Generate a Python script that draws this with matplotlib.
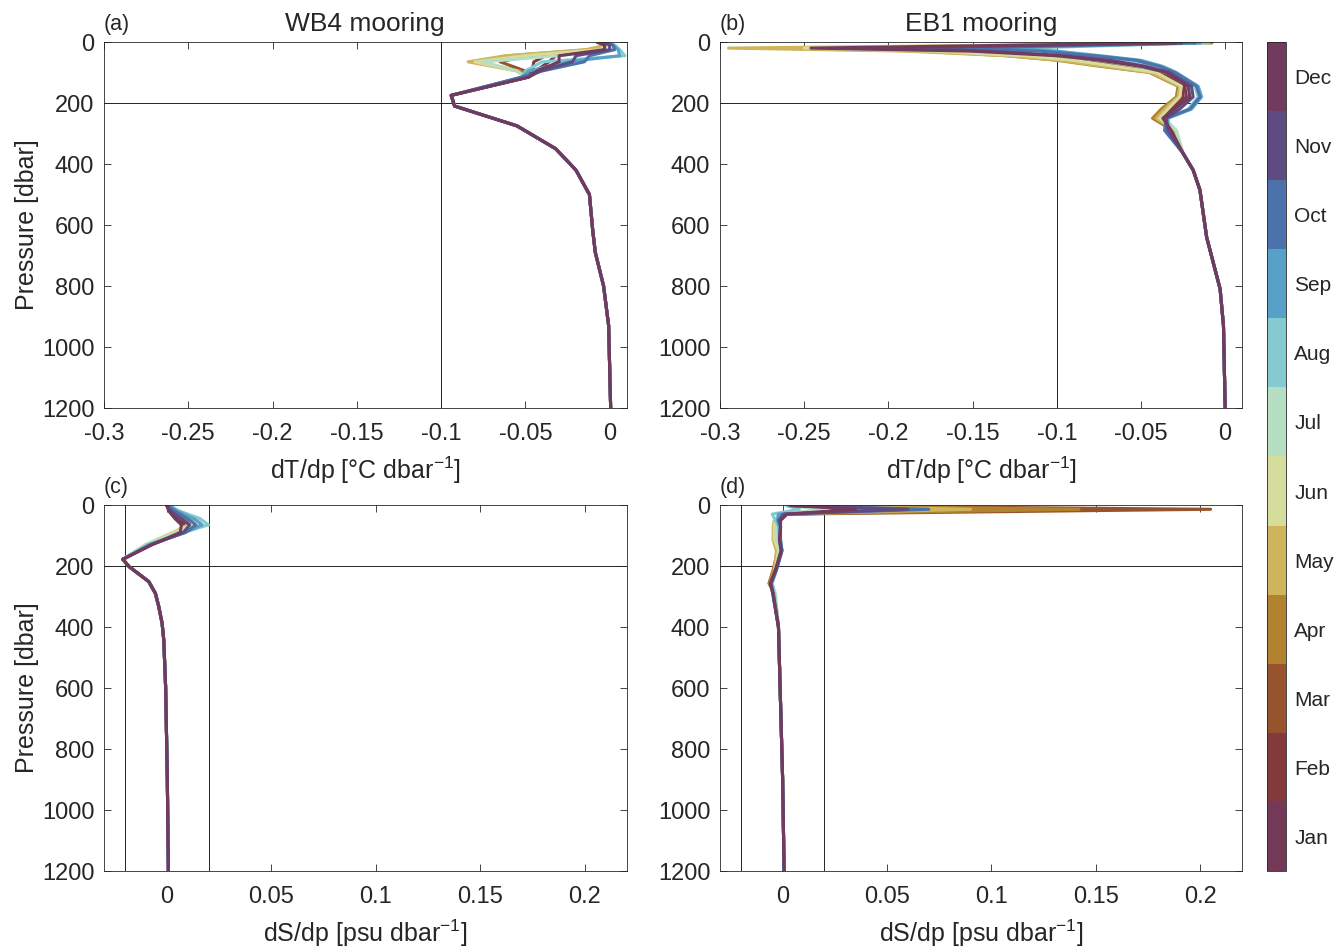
import numpy as np
import matplotlib
matplotlib.use("Agg")
import matplotlib.pyplot as plt
from matplotlib.colors import ListedColormap, BoundaryNorm
from matplotlib.colorbar import ColorbarBase

plt.rcParams['font.family'] = ['Liberation Sans', 'DejaVu Sans']
plt.rcParams['mathtext.fontset'] = 'custom'
plt.rcParams['mathtext.rm'] = 'Liberation Sans'
plt.rcParams['mathtext.it'] = 'Liberation Sans'
plt.rcParams['axes.unicode_minus'] = False

months = ["Jan", "Feb", "Mar", "Apr", "May", "Jun",
          "Jul", "Aug", "Sep", "Oct", "Nov", "Dec"]
month_colors = ["#733957", "#843A3D", "#97532B", "#B2832F", "#CEB45B", "#D5DD9C",
                "#B5DEC3", "#84CACF", "#57A0C8", "#4C72AB", "#5E4B82", "#723A5D"]

# (a) WB4 dT/dp, upper levels differ by month, deep part shared
wb4_T_p_upper = [2, 10, 25, 45, 65, 95, 115]
wb4_T_upper = [
    [-0.006, -0.003, -0.004, -0.032, -0.036, -0.044, -0.048],
    [-0.006, -0.003, -0.006, -0.038, -0.045, -0.046, -0.049],
    [-0.005, -0.002, -0.010, -0.048, -0.065, -0.050, -0.050],
    [-0.004, -0.001, -0.012, -0.060, -0.080, -0.053, -0.050],
    [-0.005, -0.002, -0.014, -0.062, -0.084, -0.055, -0.050],
    [-0.004, 0.000, -0.006, -0.050, -0.080, -0.055, -0.050],
    [-0.003, 0.002, 0.003, -0.030, -0.075, -0.055, -0.050],
    [-0.002, 0.003, 0.006, 0.009, -0.040, -0.050, -0.052],
    [-0.002, 0.002, 0.005, 0.006, -0.025, -0.048, -0.052],
    [-0.003, 0.002, 0.003, -0.012, -0.015, -0.040, -0.052],
    [-0.004, 0.000, 0.000, -0.020, -0.022, -0.041, -0.048],
    [-0.007, -0.003, -0.003, -0.030, -0.030, -0.043, -0.048],
]
wb4_T_p_deep = [175, 210, 275, 350, 420, 500, 620, 690, 800, 930, 1200]
wb4_T_deep = [-0.094, -0.092, -0.055, -0.032, -0.020, -0.012, -0.010, -0.0085, -0.0036, -0.0006, 0.0006]

# (b) EB1 dT/dp
eb1_T_p_upper = [3, 20, 30, 45, 60, 80, 100, 145, 180, 220, 250, 290]
eb1_T_upper = [
    [-0.030, -0.220, -0.160, -0.105, -0.078, -0.055, -0.037, -0.024, -0.023, -0.031, -0.038, -0.032],
    [-0.028, -0.200, -0.160, -0.110, -0.082, -0.058, -0.039, -0.025, -0.025, -0.033, -0.039, -0.031],
    [-0.020, -0.180, -0.160, -0.120, -0.092, -0.068, -0.043, -0.027, -0.028, -0.037, -0.043, -0.031],
    [-0.008, -0.240, -0.180, -0.130, -0.100, -0.074, -0.045, -0.028, -0.029, -0.038, -0.043, -0.030],
    [-0.010, -0.295, -0.190, -0.130, -0.098, -0.072, -0.044, -0.027, -0.028, -0.036, -0.041, -0.030],
    [-0.012, -0.250, -0.175, -0.120, -0.090, -0.065, -0.041, -0.026, -0.027, -0.034, -0.039, -0.029],
    [-0.012, -0.160, -0.130, -0.100, -0.075, -0.052, -0.035, -0.021, -0.021, -0.029, -0.036, -0.029],
    [-0.011, -0.120, -0.100, -0.080, -0.058, -0.040, -0.030, -0.018, -0.016, -0.022, -0.034, -0.033],
    [-0.015, -0.140, -0.100, -0.074, -0.050, -0.037, -0.029, -0.016, -0.014, -0.020, -0.034, -0.035],
    [-0.018, -0.160, -0.110, -0.078, -0.053, -0.039, -0.030, -0.017, -0.015, -0.021, -0.035, -0.036],
    [-0.026, -0.200, -0.140, -0.095, -0.068, -0.047, -0.033, -0.020, -0.019, -0.027, -0.035, -0.034],
    [-0.030, -0.246, -0.150, -0.100, -0.074, -0.050, -0.035, -0.022, -0.021, -0.030, -0.037, -0.032],
]
eb1_T_p_deep = [365, 420, 485, 640, 810, 930, 1200]
eb1_T_deep = [-0.025, -0.019, -0.015, -0.011, -0.003, -0.001, 0.0]

# (c) WB4 dS/dp
wb4_S_p_upper = [1, 20, 45, 65, 90, 130]
wb4_S_upper = [
    [0.000, 0.0015, 0.005, 0.008, 0.006, -0.008],
    [0.0005, 0.002, 0.006, 0.009, 0.006, -0.008],
    [0.001, 0.003, 0.008, 0.010, 0.005, -0.008],
    [0.001, 0.004, 0.010, 0.011, 0.004, -0.009],
    [0.001, 0.005, 0.013, 0.010, 0.003, -0.010],
    [0.001, 0.006, 0.015, 0.012, 0.003, -0.010],
    [0.001, 0.006, 0.016, 0.016, 0.005, -0.010],
    [0.001, 0.006, 0.016, 0.020, 0.008, -0.009],
    [0.001, 0.005, 0.013, 0.017, 0.009, -0.008],
    [0.000, 0.004, 0.010, 0.014, 0.009, -0.008],
    [0.000, 0.002, 0.007, 0.011, 0.008, -0.007],
    [0.000, 0.001, 0.004, 0.007, 0.0065, -0.007],
]
wb4_S_p_deep = [178, 202, 251, 290, 333, 388, 443, 600, 900, 1200]
wb4_S_deep = [-0.021, -0.018, -0.0086, -0.0054, -0.0038, -0.0022, -0.0014, -0.0005, 0.0003, 0.0008]

# (d) EB1 dS/dp
eb1_S_p_upper = [2, 14, 30, 50, 70, 115, 150, 213, 257, 290]
eb1_S_upper = [
    [0.004, 0.080, 0.002, -0.001, -0.0015, -0.002, -0.001, -0.0035, -0.0058, -0.0045],
    [0.004, 0.120, 0.002, -0.0015, -0.002, -0.0025, -0.0015, -0.004, -0.006, -0.0045],
    [0.004, 0.205, 0.001, -0.002, -0.003, -0.0035, -0.002, -0.0045, -0.0065, -0.004],
    [0.003, 0.142, 0.000, -0.003, -0.004, -0.004, -0.0025, -0.0045, -0.0065, -0.004],
    [0.003, 0.090, -0.001, -0.004, -0.0045, -0.0046, -0.003, -0.004, -0.006, -0.004],
    [0.003, 0.050, -0.001, -0.0035, -0.004, -0.004, -0.002, -0.0035, -0.0055, -0.0035],
    [0.002, 0.020, -0.002, -0.003, -0.003, -0.003, -0.001, -0.003, -0.005, -0.0035],
    [0.002, 0.008, -0.005, -0.0035, -0.002, -0.0015, -0.0005, -0.003, -0.005, -0.004],
    [0.003, 0.050, -0.002, -0.0025, -0.0015, -0.001, -0.0003, -0.003, -0.0055, -0.0045],
    [0.004, 0.070, 0.000, -0.002, -0.001, -0.001, -0.0003, -0.003, -0.0055, -0.0048],
    [0.004, 0.060, 0.001, -0.0015, -0.001, -0.0015, -0.0005, -0.0032, -0.0057, -0.0047],
    [0.005, 0.035, 0.002, -0.001, -0.001, -0.0015, -0.0008, -0.0035, -0.006, -0.0045],
]
eb1_S_p_deep = [400, 600, 900, 1200]
eb1_S_deep = [-0.002, -0.0012, 0.0, 0.0007]

W, H = 1336, 947
fig = plt.figure(figsize=(W / 100, H / 100), dpi=100)

def px_axes(left, top, right, bottom):
    return fig.add_axes([left / W, 1 - bottom / H, (right - left) / W, (bottom - top) / H])

ax_a = px_axes(104, 42, 626.5, 408)
ax_b = px_axes(720, 42, 1242, 408)
ax_c = px_axes(104, 505, 626.5, 871)
ax_d = px_axes(720, 505, 1242, 871)

txt = "#262626"

def draw(ax, p_up, up, p_deep, deep):
    for m in range(12):
        x = np.concatenate([up[m], deep])
        p = np.concatenate([p_up, p_deep])
        ax.plot(x, p, color=month_colors[m], lw=2.2, solid_joinstyle='round')

def style(ax, xlim, xticks, xlabel, ylabel, letter, title=None):
    ax.set_xlim(*xlim)
    ax.set_ylim(1200, 0)
    ax.set_xticks(xticks)
    ax.set_xticklabels(["%g" % t for t in xticks])
    ax.set_yticks(range(0, 1201, 200))
    ax.tick_params(direction='in', top=True, right=True, length=5, width=0.6,
                   labelsize=17, colors=txt)
    ax.tick_params(axis='x', pad=11)
    ax.tick_params(axis='y', pad=7)
    for s in ax.spines.values():
        s.set_linewidth(0.6)
        s.set_color(txt)
    ax.set_xlabel(xlabel, fontsize=18, color=txt, labelpad=7)
    if ylabel:
        ax.set_ylabel(ylabel, fontsize=18, color=txt, labelpad=2)
    ax.text(0.0, 1.02, letter, transform=ax.transAxes, fontsize=15.5, color=txt,
            ha='left', va='bottom')
    if title:
        ax.set_title(title, fontsize=19, color=txt, pad=8)

draw(ax_a, wb4_T_p_upper, wb4_T_upper, wb4_T_p_deep, wb4_T_deep)
draw(ax_b, eb1_T_p_upper, eb1_T_upper, eb1_T_p_deep, eb1_T_deep)
draw(ax_c, wb4_S_p_upper, wb4_S_upper, wb4_S_p_deep, wb4_S_deep)
draw(ax_d, eb1_S_p_upper, eb1_S_upper, eb1_S_p_deep, eb1_S_deep)

T_ticks = [-0.3, -0.25, -0.2, -0.15, -0.1, -0.05, 0]
S_ticks = [0, 0.05, 0.1, 0.15, 0.2]
T_label = "dT/dp [°C dbar$^{-1}$]"
S_label = "dS/dp [psu dbar$^{-1}$]"

for ax in (ax_a, ax_b):
    ax.axvline(-0.1, color='k', lw=0.6, zorder=0)
    ax.axhline(200, color='k', lw=0.6, zorder=0)
for ax in (ax_c, ax_d):
    ax.axvline(-0.02, color='k', lw=0.6, zorder=0)
    ax.axvline(0.02, color='k', lw=0.6, zorder=0)
    ax.axhline(200, color='k', lw=0.6, zorder=0)

style(ax_a, (-0.3, 0.01), T_ticks, T_label, "Pressure [dbar]", "(a)", "WB4 mooring")
style(ax_b, (-0.3, 0.01), T_ticks, T_label, None, "(b)", "EB1 mooring")
style(ax_c, (-0.03, 0.22), S_ticks, S_label, "Pressure [dbar]", "(c)")
style(ax_d, (-0.03, 0.22), S_ticks, S_label, None, "(d)")

cax = px_axes(1267, 42, 1286, 871)
cmap = ListedColormap(month_colors)
norm = BoundaryNorm(np.arange(13), 12)
cb = ColorbarBase(cax, cmap=cmap, norm=norm, orientation='vertical')
cb.set_ticks(np.arange(12) + 0.5)
cb.set_ticklabels(months)
cax.minorticks_off()
cax.tick_params(which='both', length=0, labelsize=15, colors=txt, pad=6)
cb.outline.set_linewidth(0.6)
cb.outline.set_edgecolor(txt)

fig.savefig("out.png", dpi=100)
